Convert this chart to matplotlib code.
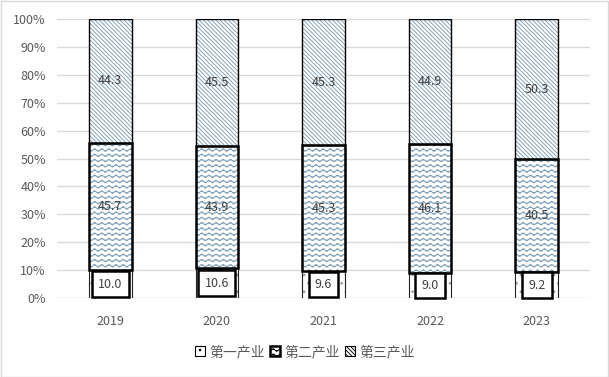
import numpy as np
import matplotlib
matplotlib.use("Agg")
import matplotlib.pyplot as plt
import matplotlib.hatch as mhatch
from matplotlib.patches import Rectangle, Patch
import warnings

warnings.filterwarnings("ignore")

years = ["2019", "2020", "2021", "2022", "2023"]
primary = [10.0, 10.6, 9.6, 9.0, 9.2]
secondary = [45.7, 43.9, 45.3, 46.1, 40.5]
tertiary = [44.3, 45.5, 45.3, 44.9, 50.3]
series_names = ["第一产业", "第二产业", "第三产业"]


# wavy hatch pattern, registered as '~'
class Waves(mhatch.HatchPatternBase):
    periods = 14
    steps = 8

    def __init__(self, hatch, density):
        self.num_rows = int(hatch.count('~') * density * 19 / 6)
        npts = self.periods * self.steps + 1
        self.num_vertices = self.num_rows * npts

    def set_vertices_and_codes(self, vertices, codes):
        npts = self.periods * self.steps + 1
        xs = np.linspace(0, 1, npts)
        wave = 0.013 * np.sin(2 * np.pi * self.periods * xs)
        for i in range(self.num_rows):
            y0 = (i + 0.5) / self.num_rows
            sl = slice(i * npts, (i + 1) * npts)
            vertices[sl, 0] = xs
            vertices[sl, 1] = y0 + wave
            codes[sl] = matplotlib.path.Path.LINETO
            codes[i * npts] = matplotlib.path.Path.MOVETO


mhatch._hatch_types.append(Waves)

plt.rcParams['font.family'] = ['Noto Sans CJK SC', 'DejaVu Sans']
plt.rcParams['hatch.linewidth'] = 0.65

fig = plt.figure(figsize=(6.09, 3.77), dpi=100)
ax = fig.add_axes([57 / 609, 1 - 298 / 377, 533 / 609, 279 / 377])

x = np.arange(len(years))
p = np.array(primary)
s = np.array(secondary)
t = np.array(tertiary)
tot = p + s + t
p_pct = p / tot * 100
s_pct = s / tot * 100
t_pct = t / tot * 100

w = 0.4
hatch_blue = '#7c9db6'
diag = '\\' * 8

# primary
ax.bar(x, p_pct, w, color='white', edgecolor='#999999', hatch='..', linewidth=0, zorder=2)
ax.bar(x, p_pct, w, fill=False, edgecolor='#222222', linewidth=0.8, zorder=3)
# secondary
ax.bar(x, s_pct, w, bottom=p_pct, color='white', edgecolor=hatch_blue, hatch='~', linewidth=0, zorder=2)
ax.bar(x, s_pct, w, bottom=p_pct, fill=False, edgecolor='black', linewidth=1.8, zorder=4)
# tertiary
ax.bar(x, t_pct, w, bottom=p_pct + s_pct, color='white', edgecolor=hatch_blue, hatch=diag, linewidth=0, zorder=2)
ax.bar(x, t_pct, w, bottom=p_pct + s_pct, fill=False, edgecolor='black', linewidth=1.0, zorder=3)

label_color = '#404040'
for i in range(len(years)):
    ax.text(x[i], p_pct[i] / 2, f"{primary[i]:.1f}", ha='center', va='center',
            fontsize=9, color=label_color, zorder=6,
            bbox=dict(boxstyle='square,pad=0.5', facecolor='white', edgecolor='black', linewidth=1.8))
    ax.text(x[i], p_pct[i] + s_pct[i] / 2, f"{secondary[i]:.1f}", ha='center', va='center',
            fontsize=9, color=label_color, zorder=6)
    ax.text(x[i], p_pct[i] + s_pct[i] + t_pct[i] / 2, f"{tertiary[i]:.1f}", ha='center', va='center',
            fontsize=9, color=label_color, zorder=6)

ax.set_xlim(-0.5, len(years) - 0.5)
ax.set_ylim(0, 100)
ax.set_yticks(np.arange(0, 101, 10))
ax.set_yticklabels([f"{v}%" for v in range(0, 101, 10)])
ax.set_xticks(x)
ax.set_xticklabels(years)
ax.tick_params(axis='both', length=0, labelsize=9, labelcolor='#595959')
ax.tick_params(axis='x', pad=12)
ax.tick_params(axis='y', pad=8)
ax.yaxis.grid(True, color='#d9d9d9', linewidth=1)
ax.set_axisbelow(True)
for sp in ax.spines.values():
    sp.set_visible(False)

handles = [
    Patch(facecolor='white', edgecolor='black', hatch='..', linewidth=0.8),
    Patch(facecolor='white', edgecolor='black', hatch='~', linewidth=1.8),
    Patch(facecolor='white', edgecolor='black', hatch=diag, linewidth=0.8),
]
fig.legend(handles, series_names, loc='center', bbox_to_anchor=(305 / 609, 1 - 352 / 377),
           ncol=3, frameon=False, fontsize=10, labelcolor='#595959',
           handlelength=0.7, handleheight=0.7, handletextpad=0.3, columnspacing=0.4)

fig.patches.append(Rectangle((0.001, 0.001), 0.997, 0.996, transform=fig.transFigure,
                             fill=False, edgecolor='#d9d9d9', linewidth=1))

fig.savefig("out.png", dpi=100)
